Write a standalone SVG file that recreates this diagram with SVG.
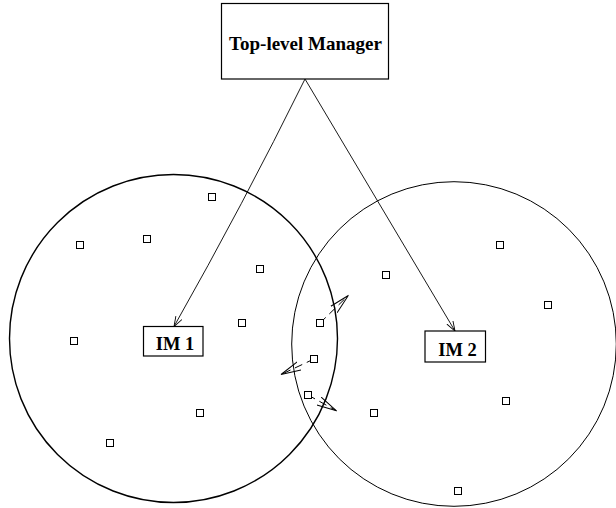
<svg xmlns="http://www.w3.org/2000/svg" width="616" height="508" viewBox="0 0 616 508">
<defs>
<style>
.box{fill:#fff;stroke:#000;stroke-width:1.2}
.lbl{font-family:"Liberation Serif","Times New Roman",serif;font-weight:bold;font-size:18.5px;fill:#000;text-anchor:middle}
.range{fill:none;stroke:#000}
.node{fill:#fff;stroke:#000;stroke-width:1}
.link{fill:none;stroke:#000;stroke-width:0.9}
.msg{fill:none;stroke:#000;stroke-width:1;stroke-dasharray:8 5}
</style>
<marker id="ah" markerUnits="userSpaceOnUse" markerWidth="14" markerHeight="10" refX="10" refY="4" orient="auto" viewBox="0 0 14 10">
<path d="M0,0.5 L10,4 L0,7.5" fill="none" stroke="#000" stroke-width="0.9"/>
</marker>
<marker id="mh" markerUnits="userSpaceOnUse" markerWidth="24" markerHeight="12" refX="20" refY="6" orient="auto" viewBox="0 0 24 12">
<path d="M0,1.5 L20,6 L0,10.5" fill="none" stroke="#000" stroke-width="1"/>
</marker>
</defs>
<rect width="616" height="508" fill="#fff"/>
<g id="ranges">
<circle class="range" cx="173.5" cy="338.5" r="164" stroke-width="1.4"/>
<circle class="range" cx="454" cy="344" r="162.3" stroke-width="1"/>
</g>
<g id="connectors">
<path class="link" d="M305,79 Q243,204.6 174,326.5" marker-end="url(#ah)"/>
<path class="link" d="M305,79 L455,331" marker-end="url(#ah)"/>
<path class="msg" d="M320,323 L348.3,295.5" marker-end="url(#mh)"/>
<path class="msg" d="M314,359 L281,374.5" marker-end="url(#mh)"/>
<path class="msg" d="M308,395 L336.5,410.8" marker-end="url(#mh)"/>
</g>
<g id="top-manager">
<rect class="box" x="221.5" y="3.5" width="167" height="75.5"/>
<text class="lbl" x="305.5" y="50" style="font-size:19px">Top-level Manager</text>
</g>
<g id="im1">
<rect class="box" x="143.5" y="326.5" width="59.5" height="29.5"/>
<text class="lbl" x="175" y="350">IM 1</text>
</g>
<g id="im2">
<rect class="box" x="425" y="331" width="60.5" height="31"/>
<text class="lbl" x="457.5" y="355.5">IM 2</text>
</g>
<g id="nodes">
<rect class="node" x="208.5" y="193.5" width="7" height="7"/>
<rect class="node" x="143.5" y="235.5" width="7" height="7"/>
<rect class="node" x="76.5" y="241.5" width="7" height="7"/>
<rect class="node" x="256.5" y="265.5" width="7" height="7"/>
<rect class="node" x="238.5" y="319.5" width="7" height="7"/>
<rect class="node" x="70.5" y="337.5" width="7" height="7"/>
<rect class="node" x="196.5" y="409.5" width="7" height="7"/>
<rect class="node" x="106.5" y="439.5" width="7" height="7"/>
<rect class="node" x="496.5" y="241.5" width="7" height="7"/>
<rect class="node" x="382.5" y="271.5" width="7" height="7"/>
<rect class="node" x="544.5" y="301.5" width="7" height="7"/>
<rect class="node" x="316.5" y="319.5" width="7" height="7"/>
<rect class="node" x="310.5" y="355.5" width="7" height="7" fill="none"/>
<rect class="node" x="304.5" y="391.5" width="7" height="7" fill="none"/>
<rect class="node" x="370.5" y="409.5" width="7" height="7"/>
<rect class="node" x="502.5" y="397.5" width="7" height="7"/>
<rect class="node" x="454.5" y="487.5" width="7" height="7"/>
</g>
</svg>
